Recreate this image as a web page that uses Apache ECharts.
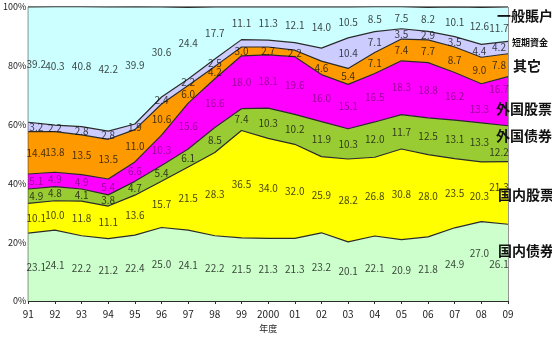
<!DOCTYPE html>
<html>
<head>
<meta charset="utf-8">
<script src="https://cdn.jsdelivr.net/npm/echarts@6/dist/echarts.min.js"></script>
<style>
  html, body { margin: 0; padding: 0; background: #ffffff; }
  #chart { width: 552px; height: 338px; }
</style>
</head>
<body>
<div id="chart"></div>
<script>
// Fiscal years
const years = ['91','92','93','94','95','96','97','98','99','2000','01','02','03','04','05','06','07','08','09'];

// Asset mix (%), from the bottom band upward
const domesticBonds  = [23.1,24.1,22.2,21.2,22.4,25.0,24.1,22.2,21.5,21.3,21.3,23.2,20.1,22.1,20.9,21.8,24.9,27.0,26.1];
const domesticStocks = [10.1,10.0,11.8,11.1,13.6,15.7,21.5,28.3,36.5,34.0,32.0,25.9,28.2,26.8,30.8,28.0,23.5,20.3,21.3];
const foreignBonds   = [4.9,4.8,4.1,3.8,4.7,5.4,6.1,8.5,7.4,10.3,10.2,11.9,10.3,12.0,11.7,12.5,13.1,13.3,12.2];
const foreignStocks  = [5.1,4.9,4.9,5.4,6.6,10.3,15.6,16.6,18.0,18.1,19.6,16.0,15.1,16.5,18.3,18.8,16.2,13.3,16.7];
const others         = [14.4,13.8,13.5,13.5,11.0,10.6,6.0,4.2,3.0,2.7,2.2,4.6,5.4,7.1,7.4,7.7,8.7,9.0,7.8];
const shortTerm      = [3.2,2.2,2.8,2.8,1.9,2.4,2.2,2.5,2.5,2.3,2.6,4.4,10.4,7.1,3.5,2.9,3.5,4.4,4.2];
const generalAccount = [39.2,40.3,40.8,42.2,39.9,30.6,24.4,17.7,11.1,11.3,12.1,14.0,10.5,8.5,7.5,8.2,10.1,12.6,11.7];

// Years whose short-term band is too thin to carry a value label
const shortUnlabeled = ['99','2000','01','02'];

// Axis ticks
const yTicks = [0, 20, 40, 60, 80, 100];

// prevDy / lastDy: vertical nudges (px) of the last two years' labels so they stay readable
const bands = [
  { name: '国内债券', data: domesticBonds,  color: '#ccffcc', text: '#111', prevDy: -8, lastDy: 2 },
  { name: '国内股票', data: domesticStocks, color: '#ffff00', text: '#111', prevDy: 4,  lastDy: -6 },
  { name: '外国债券', data: foreignBonds,   color: '#99cc33', text: '#111', prevDy: 0,  lastDy: 8 },
  { name: '外国股票', data: foreignStocks,  color: '#ff00ff', text: '#7a0a7a', prevDy: 6, lastDy: -12 },
  { name: '其它',     data: others,         color: '#ff9900', text: '#111', prevDy: 0,  lastDy: 0 },
  { name: '短期資金', data: shortTerm,      color: '#ccccff', text: '#111', prevDy: 0,  lastDy: 0, skip: shortUnlabeled },
  { name: '一般賬户', data: generalAccount, color: '#ccffff', text: '#111', prevDy: 0,  lastDy: 4 }
];

const FONT = '"Noto Sans CJK JP", "Noto Sans", sans-serif';
const series = [];
const cum = years.map(() => 0);

bands.forEach(b => {
  series.push({
    name: b.name,
    type: 'line',
    stack: 'total',
    symbol: 'none',
    data: b.data,
    lineStyle: { color: '#2b2b2b', width: 1.2 },
    areaStyle: { color: b.color, opacity: 1 },
    z: 2
  });
  const pts = [];
  b.data.forEach((v, i) => {
    const mid = cum[i] + v / 2;
    cum[i] += v;
    if (b.skip && b.skip.indexOf(years[i]) >= 0) return;
    let dx = 0, dy = 0;
    if (i === 0) dx = 8;
    if (i === years.length - 2) { dx = -2; dy = b.prevDy; }
    if (i === years.length - 1) { dx = -9; dy = b.lastDy; }
    pts.push({
      value: [i, mid],
      label: { offset: [dx, dy] },
      text: v.toFixed(1)
    });
  });
  series.push({
    type: 'scatter',
    symbolSize: 0,
    data: pts,
    silent: true,
    z: 5,
    label: {
      show: true,
      position: 'inside',
      formatter: p => p.data.text,
      fontSize: 10,
      fontFamily: FONT,
      color: b.text
    }
  });
});

const rightLabels = [
  { t: '一般賬户', y: 17, x: 497, size: 14 },
  { t: '短期資金', y: 44, x: 512, size: 9 },
  { t: '其它',     y: 67, x: 513, size: 14 },
  { t: '外国股票', y: 110, x: 496, size: 14 },
  { t: '外国债券', y: 137, x: 496, size: 14 },
  { t: '国内股票', y: 196, x: 498, size: 14 },
  { t: '国内债券', y: 252, x: 498, size: 14 }
];

const chart = echarts.init(document.getElementById('chart'), null, { renderer: 'canvas' });
chart.setOption({
  animation: false,
  backgroundColor: '#ffffff',
  grid: {
    left: 25, right: 44, top: 7, bottom: 36,
    show: true, borderColor: '#2b2b2b', borderWidth: 1, backgroundColor: 'transparent'
  },
  xAxis: {
    type: 'category',
    data: years,
    boundaryGap: false,
    name: '年度',
    nameLocation: 'middle',
    nameGap: 23,
    nameTextStyle: { fontSize: 9, fontFamily: FONT, color: '#222' },
    axisLine: { lineStyle: { color: '#2b2b2b' } },
    axisTick: { show: true, length: 3, interval: 0, lineStyle: { color: '#2b2b2b' } },
    axisLabel: { interval: 0, fontSize: 10, fontFamily: FONT, color: '#222', margin: 8 },
    splitLine: { show: false }
  },
  yAxis: {
    type: 'value',
    min: yTicks[0],
    max: yTicks[yTicks.length - 1],
    interval: 20,
    axisLine: { show: true, lineStyle: { color: '#2b2b2b' } },
    axisTick: { show: false },
    axisLabel: { fontSize: 9, fontFamily: FONT, color: '#222', margin: 2, formatter: '{value}%' },
    splitLine: { show: false }
  },
  series: series,
  graphic: rightLabels.map(l => ({
    type: 'text',
    left: l.x,
    top: l.y - l.size / 2 - 1,
    z: 10,
    style: {
      text: l.t,
      fontSize: l.size,
      fontWeight: 'bold',
      fontFamily: FONT,
      fill: '#111'
    }
  }))
});
</script>
</body>
</html>
